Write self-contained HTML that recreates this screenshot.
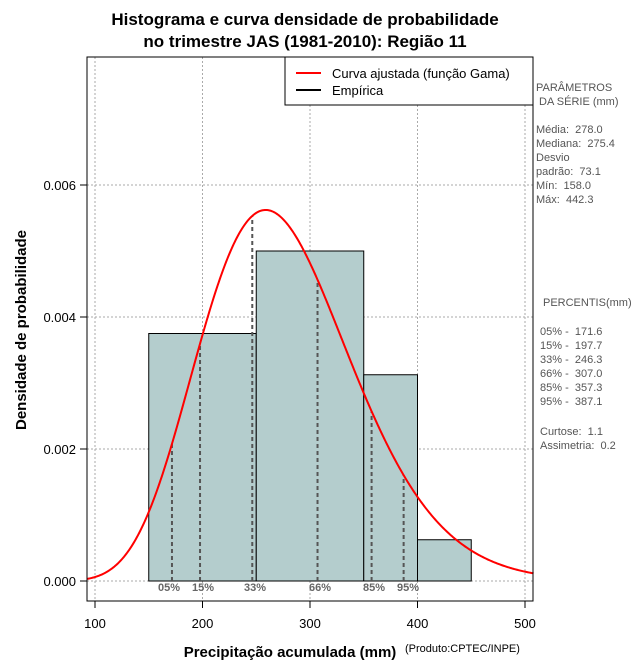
<!DOCTYPE html>
<html><head><meta charset="utf-8"><style>
body{margin:0;background:#fff;}
svg{display:block;font-family:"Liberation Sans",sans-serif;}
text{white-space:pre;}
</style></head><body>
<svg id="s" width="640" height="660" viewBox="0 0 640 660" xml:space="preserve">
<rect width="640" height="660" fill="#fff"/>
<text x="305" y="25" font-size="17" font-weight="bold" text-anchor="middle">Histograma e curva densidade de probabilidade</text>
<text x="305" y="47" font-size="17" font-weight="bold" text-anchor="middle">no trimestre JAS (1981-2010): Região 11</text>
<g id="grid" stroke="#aaa" stroke-dasharray="2,2" stroke-width="1"></g>
<g id="bars" fill="#b4cdcd" stroke="#000" stroke-width="1"></g>
<line x1="148.75" y1="581" x2="471.25" y2="581" stroke="#000" stroke-dasharray="1,2"/>
<g id="pct" stroke="#555" stroke-width="2" stroke-dasharray="4,3"></g>
<path id="curve" fill="none" stroke="#f00" stroke-width="2"/>
<g font-size="11" font-weight="bold" fill="#666" text-anchor="middle">
<text x="169" y="591">05%</text><text x="203" y="591">15%</text><text x="255" y="591">33%</text>
<text x="320" y="591">66%</text><text x="374" y="591">85%</text><text x="408" y="591">95%</text>
</g>
<rect x="87" y="57" width="446" height="544" fill="none" stroke="#000"/>
<g stroke="#000"><line x1="95" y1="601" x2="95" y2="608"/><line x1="202.5" y1="601" x2="202.5" y2="608"/><line x1="310" y1="601" x2="310" y2="608"/><line x1="417.5" y1="601" x2="417.5" y2="608"/><line x1="525" y1="601" x2="525" y2="608"/>
<line x1="80" y1="581" x2="87" y2="581"/><line x1="80" y1="449" x2="87" y2="449"/><line x1="80" y1="317" x2="87" y2="317"/><line x1="80" y1="185" x2="87" y2="185"/></g>
<g font-size="13" text-anchor="middle"><text x="95" y="628">100</text><text x="202.5" y="628">200</text><text x="310" y="628">300</text><text x="417.5" y="628">400</text><text x="525" y="628">500</text></g>
<g font-size="13" text-anchor="end"><text x="76" y="586">0.000</text><text x="76" y="454">0.002</text><text x="76" y="322">0.004</text><text x="76" y="190">0.006</text></g>
<text x="290" y="657" font-size="15" font-weight="bold" text-anchor="middle">Precipitação acumulada (mm)</text>
<text x="405" y="652" font-size="11">(Produto:CPTEC/INPE)</text>
<text transform="translate(26,330) rotate(-90)" font-size="15" font-weight="bold" text-anchor="middle">Densidade de probabilidade</text>
<rect x="285" y="57" width="248" height="48" fill="#fff" stroke="#000"/>
<line x1="296" y1="73" x2="321" y2="73" stroke="#f00" stroke-width="2"/>
<line x1="296" y1="90" x2="321" y2="90" stroke="#000" stroke-width="2"/>
<text x="332" y="78" font-size="13">Curva ajustada (função Gama)</text>
<text x="332" y="95" font-size="13">Empírica</text>
<g font-size="11" fill="#555">
<text x="536" y="91">PARÂMETROS</text><text x="536" y="105"> DA SÉRIE (mm)</text>
<text x="536" y="133">Média:  278.0</text><text x="536" y="147">Mediana:  275.4</text><text x="536" y="161">Desvio</text>
<text x="536" y="175">padrão:  73.1</text><text x="536" y="189">Mín:  158.0</text><text x="536" y="203">Máx:  442.3</text>
<text x="543" y="306">PERCENTIS(mm)</text>
<text x="540" y="335">05% -  171.6</text><text x="540" y="349">15% -  197.7</text><text x="540" y="363">33% -  246.3</text>
<text x="540" y="377">66% -  307.0</text><text x="540" y="391">85% -  357.3</text><text x="540" y="405">95% -  387.1</text>
<text x="540" y="435">Curtose:  1.1</text><text x="540" y="449">Assimetria:  0.2</text>
</g>
</svg>
<script>
var NS="http://www.w3.org/2000/svg";
function X(v){return 95+(v-100)*1.075;}
function Y(d){return 581-d*66000;}
function el(p,t,a){var e=document.createElementNS(NS,t);for(var k in a)e.setAttribute(k,a[k]);document.getElementById(p).appendChild(e);}
[100,200,300,400,500].forEach(function(v){el("grid","line",{x1:X(v),y1:57,x2:X(v),y2:601});});
[0,0.002,0.004,0.006].forEach(function(d){el("grid","line",{x1:87,y1:Y(d),x2:533,y2:Y(d)});});
[[150,250,0.00375],[250,350,0.005],[350,400,0.003125],[400,450,0.000625]].forEach(function(b){
el("bars","rect",{x:X(b[0]),y:Y(b[2]),width:X(b[1])-X(b[0]),height:581-Y(b[2])});});
var k=Math.pow(278/73.1,2),th=73.1*73.1/278;
function lg(z){var c=[76.18009172947146,-86.50532032941677,24.01409824083091,-1.231739572450155,0.1208650973866179e-2,-0.5395239384953e-5];var x=z,y=z,t=x+5.5;t-=(x+0.5)*Math.log(t);var s=1.000000000190015;for(var j=0;j<6;j++)s+=c[j]/++y;return -t+Math.log(2.5066282746310005*s/x);}
var LG=lg(k);
function g(x){return Math.exp((k-1)*Math.log(x)-x/th-LG-k*Math.log(th));}
var d="";for(var v=93;v<=508;v+=1){d+=(v==93?"M":"L")+X(v).toFixed(2)+","+Y(g(v)).toFixed(2);}
document.getElementById("curve").setAttribute("d",d);
[171.6,197.7,246.3,307.0,357.3,387.1].forEach(function(v){el("pct","line",{x1:X(v),y1:581,x2:X(v),y2:Y(g(v))});});
</script>
</body></html>
